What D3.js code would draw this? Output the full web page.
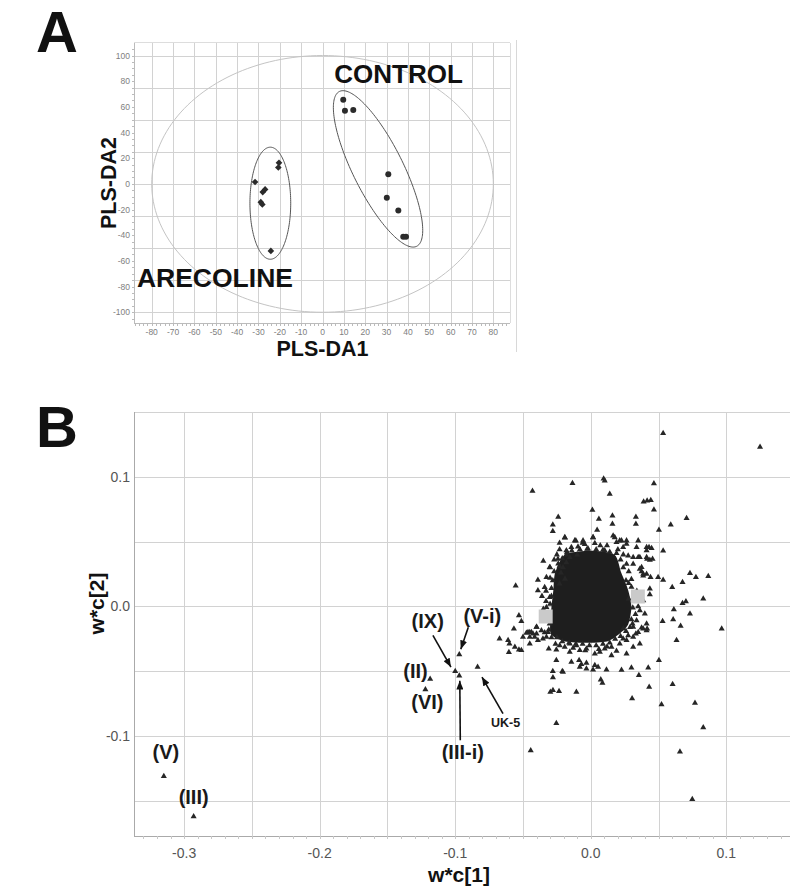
<!DOCTYPE html>
<html>
<head>
<meta charset="utf-8">
<script src="https://cdnjs.cloudflare.com/ajax/libs/d3/7.8.5/d3.min.js"></script>
<style>
  html, body { margin: 0; padding: 0; background: #fff; }
  svg { display: block; font-family: "Liberation Sans", Arial, sans-serif; }
  .grid line { stroke: #d2d2d2; stroke-width: 1; shape-rendering: crispEdges; }
  .frame line { shape-rendering: crispEdges; }
  .tick-a { font-size: 8.5px; fill: #808080; }
  .tick-b { font-family: "Liberation Sans Narrow", "Arial Narrow", "Liberation Sans", sans-serif; font-size: 14px; fill: #555; }
  .title { font-weight: bold; fill: #111; }
  .annot { font-weight: bold; fill: #1a1a1a; }
</style>
</head>
<body>
<svg id="chart" width="800" height="889"></svg>
<script>
// ---- panel A : PLS-DA scores ----
var controlScores = [[9.7,65.5],[10.5,57],[14.4,57.5],[30.8,7.5],[30.1,-10.7],[35.5,-20.8],[37.8,-41.2],[39.1,-41.2]];
var arecolineScores = [[-31.6,1.5],[-26.9,-4.3],[-28,-6.4],[-28.9,-14.2],[-28.2,-16],[-20.4,16.4],[-20.7,12.8],[-24.2,-52.2]];
// ellipses as [centre, end of first semi-axis, end of second semi-axis]
var hotellingEllipse = [[0,0],[0,100],[80,0]];
var controlEllipse = [[26,11.7],[44.1,-48.6],[15.5,3.0]];
var arecolineEllipse = [[-24.45,-15.05],[-24.45,28.6],[-14.9,-15.05]];
var scoreTicksX = [-80,-70,-60,-50,-40,-30,-20,-10,0,10,20,30,40,50,60,70,80];
var scoreTicksY = [100,80,60,40,20,0,-20,-40,-60,-80,-100];
var scoreGridY = [100,75,50,25,0,-25,-50,-75,-100];

// ---- panel B : loadings w*c ----
var namedLoadings = [
  ['(V)',-0.315,-0.131],['(III)',-0.293,-0.162],['(II)',-0.1185,-0.056],['(VI)',-0.122,-0.064],
  ['(IX)',-0.100,-0.050],['(III-i)',-0.097,-0.0535],['(V-i)',-0.097,-0.037],['UK-5',-0.0835,-0.0467]
];
var outerLoadings = [
  [0.1249,0.123],[0.0534,0.1336],[-0.0135,0.095],[0.0103,0.097],[0.0095,0.0985],[-0.043,0.089],[0.0466,0.0949],
  [0.014,0.0867],[0.039,0.0808],[0.0416,0.0815],[0.0443,0.082],[0.0466,0.0746],[0.0012,0.0744],[-0.024,0.069],
  [0.006,0.0675],[0.016,0.070],[0.016,0.0636],[0.0333,0.069],[0.0333,0.0636],[0.0707,0.068],[0.059,0.063],
  [-0.028,0.063],[-0.028,0.058],[0.0047,0.059],[0.0503,0.059],[0.0534,0.043],[-0.035,0.035],[0.0732,0.0256],
  [0.0776,0.0226],[0.0867,0.0233],[-0.0554,0.016],[-0.039,0.0205],[-0.030,0.022],[-0.039,0.0123],[0.0677,0.0187],
  [0.0601,0.0149],[0.0534,0.0205],[0.0497,0.0226],[0.0441,0.0226],[0.0436,0.0136],[0.0436,0.0092],[0.043,0.0456],
  [0.0449,0.045],[0.0416,0.0367],[0.0436,0.0359],[0.0456,0.0367],[0.0375,0.027],[0.0387,0.0238],[0.083,0.0059],
  [0.0702,0.0038],[0.0677,0.0025],[0.0613,-0.0023],[0.0732,-0.0056],[0.053,-0.0113],[0.0608,-0.010],[0.0663,-0.0151],
  [0.0966,-0.0172],[0.0416,-0.0172],[0.0633,-0.026],[0.0503,-0.0415],[0.0424,-0.0472],[0.0604,-0.060],[0.0431,-0.062],
  [0.0522,-0.0756],[0.0769,-0.0744],[0.083,-0.0933],[0.0658,-0.112],[0.0749,-0.1487],[0.0355,-0.053],[0.0305,-0.071],
  [0.030,-0.0472],[0.0227,-0.049],[0.0116,-0.0487],[0.0074,-0.0564],[0.0086,-0.059],[-0.0106,-0.066],[-0.0298,-0.066],
  [-0.0279,-0.0646],[-0.0234,-0.0654],[-0.028,-0.050],[-0.0279,-0.0548],[-0.021,-0.050],[-0.0254,-0.0415],
  [-0.0254,-0.090],[-0.0443,-0.111],[-0.053,-0.0069],[-0.0512,-0.0113],[-0.0567,-0.0172],[-0.0673,-0.0249],
  [-0.061,-0.026],[-0.060,-0.0287],[-0.0604,-0.0352],[-0.056,-0.0313],[-0.053,-0.0333],[-0.0512,-0.0338],
  [-0.045,-0.0287],[-0.0475,-0.0205],[-0.0438,-0.0198],[-0.040,-0.021],[-0.031,-0.0325],[-0.0254,-0.0333],
  [-0.0081,-0.0467],[-0.0032,-0.048],[0.0017,-0.0487],[-0.0205,-0.0505]
];
var fringeLoadings = [
  [-0.019,0.053],[-0.023,0.049],[-0.023,0.044],[-0.0175,0.0418],[-0.0143,0.0456],[-0.011,0.0508],[-0.0094,0.046],
  [-0.0044,0.048],[-0.0027,0.0444],[0.0017,0.0533],[0.003,0.0487],[0.0103,0.0431],[0.0177,0.0533],[0.019,0.0495],
  [0.0214,0.0508],[0.0264,0.0482],[0.035,0.0508],[0.0412,0.0456],[0.0276,0.0392],[0.0313,0.0379],[0.035,0.0379],
  [0.0264,0.0328],[0.0362,0.029],[0.0387,0.0251],[0.0412,0.0379],[-0.023,0.031],[-0.022,0.026],[-0.0155,0.038],
  [-0.018,0.034],[-0.0205,0.030],[-0.019,0.0213],[-0.023,0.0175],
  [-0.0463,-0.0198],[-0.0426,-0.021],[-0.045,-0.0236],[-0.0414,-0.0236],[-0.039,-0.026],[-0.0353,-0.0249],
  [-0.0327,-0.0236],[-0.0316,-0.0198],[-0.0364,-0.0185],[-0.040,-0.0159],[-0.0303,-0.0133],[-0.0327,-0.0108],
  [-0.0229,-0.030],[-0.0192,-0.0313],[-0.0155,-0.0287],[-0.0106,-0.030],[-0.0081,-0.0338],[-0.0032,-0.0325],
  [0.003,-0.0364],[0.0067,-0.0351],[0.0103,-0.0325],[0.0153,-0.0313],[0.0214,-0.0287],[0.0264,-0.026],
  [0.0313,-0.0236],[0.035,-0.0198],[0.0387,-0.0172],[0.0412,-0.0133],
  [-0.0155,-0.0351],[-0.0143,-0.0428],[-0.0086,-0.0415],[-0.0069,-0.0446],[-0.0032,-0.0436],[0.003,-0.0454],
  [0.0054,-0.0467],[0.0153,-0.0377],[0.019,-0.0344],[0.0264,-0.0364],[0.0313,-0.0313],[0.0362,-0.0287],
  [0.0308,-0.0133],[0.0375,-0.0164],[0.0412,-0.0185],[0.0333,-0.021],[0.0276,-0.0223],[0.0239,-0.0249],
  [0.0362,0.0072],[0.0387,0.0046],[0.0362,-0.0031],[0.0399,-0.0056],[0.0338,-0.0108],[0.0313,-0.0159],
  [0.0412,0.0251],[0.0375,0.0302],[0.0313,0.0328],[0.0362,0.0379],[0.0412,0.0431],[0.0338,0.0456],[0.0264,0.0508],
  [-0.0192,0.0533],[-0.0118,0.0508],[-0.0057,0.0508],[0.0017,0.0533],[0.0165,0.0546],[0.0227,0.0508],[0.0239,0.0456],
  [-0.018,0.0431],[-0.0242,0.0367],[-0.0303,0.0302],[-0.0327,0.0226],[-0.034,0.0149],
  [-0.0303,0.0072],[-0.0327,-0.0005],[-0.0353,-0.0082],[-0.040,-0.0159],[-0.045,-0.0198],[-0.050,-0.0236]
];
// triangles packed against the edge of the solid core
var edgeLoadings = [
  [-0.014,0.043],[-0.008,0.044],[-0.002,0.0445],[0.004,0.044],[0.009,0.0435],[0.014,0.042],[-0.010,0.040],
  [0.007,0.047],[-0.006,0.049],[0.012,0.047],[0.019,0.041],[0.022,0.036],[0.024,0.030],[0.028,0.027],
  [0.030,0.021],[0.026,0.020],[0.020,0.044],[0.024,0.040],[0.030,0.015],[0.032,0.010],[0.033,0.004],
  [0.031,-0.001],[0.033,-0.006],[0.030,-0.010],[0.028,0.006],[0.035,0.0],[0.034,0.012],[0.028,0.018],
  [0.029,-0.016],[0.026,-0.019],[0.022,-0.023],[0.018,-0.025],[0.014,-0.028],[0.024,-0.017],
  [0.009,-0.029],[0.004,-0.030],[-0.001,-0.030],[-0.006,-0.029],[-0.011,-0.029],[-0.016,-0.028],
  [0.006,-0.033],[-0.004,-0.034],[-0.013,-0.032],[0.012,-0.031],
  [-0.021,-0.027],[-0.025,-0.024],[-0.029,-0.024],[-0.031,-0.018],[-0.026,-0.029],[-0.034,-0.020],
  [-0.031,-0.010],[-0.031,-0.005],[-0.030,0.002],[-0.029,0.008],[-0.029,0.014],[-0.028,0.020],
  [-0.033,0.004],[-0.035,-0.002],[-0.036,0.008],[-0.033,0.012],
  [-0.027,0.027],[-0.024,0.033],[-0.021,0.037],[-0.018,0.040],[-0.027,0.036],[-0.025,0.040],[-0.030,0.030]
];
// the solid, fully overplotted core of the loadings cloud
var coreOutline = [
  [-0.019,0.040],[0.0,0.043],[0.0175,0.040],[0.0225,0.026],[0.0275,0.013],[0.030,-0.0005],[0.0275,-0.014],
  [0.020,-0.022],[0.012,-0.027],[-0.003,-0.028],[-0.019,-0.027],[-0.029,-0.022],[-0.030,-0.0135],
  [-0.029,-0.0005],[-0.0276,0.0125],[-0.0263,0.026]
];
var greyBins = [[-0.0384,-0.0023,-0.0281,-0.0131],[0.0296,0.0131,0.0399,0.0023]];
var loadTicksX = [-0.3,-0.2,-0.1,0.0,0.1];
var loadTicksY = [0.1,0.0,-0.1];
var loadGridX = [-0.3,-0.25,-0.2,-0.15,-0.1,-0.05,0,0.05,0.1];
var loadGridY = [-0.15,-0.1,-0.05,0,0.05,0.1,0.15];

// label placement (px from the marked point): [label dx, label dy, arrow from dx, dy, arrow to dx, dy]
var annotLayout = {
  '(V)': [2,-17], '(III)': [0,-12.7], '(II)': [-14.7,-1.5], '(VI)': [2,19.7],
  '(IX)': [-27.5,-43.5,-22.3,-36,-4.3,-4.3],
  '(V-i)': [23,-31.8,9,-27.3,1.5,-5.3],
  '(III-i)': [3.5,83.3,1,64.3,0.5,4.8],
  'UK-5': [28,59.8,25.4,46.6,4.4,10]
};

var svg = d3.select('#chart');
var fmtB = d3.formatLocale({decimal: '.', thousands: ',', grouping: [3], currency: ['', ''], minus: '-'}).format('.1f');

svg.append('defs').append('marker')
  .attr('id', 'arrow').attr('viewBox', '0 -4 10 8').attr('refX', 10).attr('refY', 0)
  .attr('markerWidth', 9).attr('markerHeight', 7).attr('markerUnits', 'userSpaceOnUse').attr('orient', 'auto')
  .append('path').attr('d', 'M0,-4L10,0L0,4Z').attr('fill', '#111');

var ellipsePath = function(e, sx, sy) {
  var pts = d3.range(0, 2 * Math.PI + 0.01, Math.PI / 90).map(function(t) {
    var x = e[0][0] + (e[1][0] - e[0][0]) * Math.cos(t) + (e[2][0] - e[0][0]) * Math.sin(t),
        y = e[0][1] + (e[1][1] - e[0][1]) * Math.cos(t) + (e[2][1] - e[0][1]) * Math.sin(t);
    return [sx(x), sy(y)];
  });
  return d3.line()(pts) + 'Z';
};

// ================= panel A =================
(function() {
  var xA = d3.scaleLinear().domain([-88.3, 87.8]).range([134, 510]),
      yA = d3.scaleLinear().domain([-108.6, 110]).range([323.3, 42.7]);
  var g = svg.append('g');

  var grid = g.append('g').attr('class', 'grid');
  grid.selectAll('.gx').data(scoreTicksX).enter().append('line')
    .attr('x1', function(d) { return Math.round(xA(d)) + 0.5; }).attr('x2', function(d) { return Math.round(xA(d)) + 0.5; })
    .attr('y1', yA.range()[1]).attr('y2', yA.range()[0]);
  grid.selectAll('.gy').data(scoreGridY).enter().append('line')
    .attr('y1', function(d) { return Math.round(yA(d)) + 0.5; }).attr('y2', function(d) { return Math.round(yA(d)) + 0.5; })
    .attr('x1', xA.range()[0]).attr('x2', xA.range()[1]);

  var frame = g.append('g').attr('class', 'frame');
  frame.append('line').attr('x1', 134.5).attr('x2', 134.5).attr('y1', 42.7).attr('y2', 323.3).attr('stroke', '#bbb');
  frame.append('line').attr('x1', 134).attr('x2', 510).attr('y1', 323.5).attr('y2', 323.5).attr('stroke', '#bbb');
  frame.append('line').attr('x1', 134).attr('x2', 510).attr('y1', 42.5).attr('y2', 42.5).attr('stroke', '#ddd');
  frame.append('line').attr('x1', 510.5).attr('x2', 510.5).attr('y1', 42.7).attr('y2', 323.3).attr('stroke', '#ddd');
  frame.append('line').attr('x1', 516.5).attr('x2', 516.5).attr('y1', 40).attr('y2', 352).attr('stroke', '#d8d8d8');

  // minor ticks
  frame.selectAll('.mx').data(d3.range(-88, 88, 2)).enter().append('line')
    .attr('x1', function(d) { return Math.round(xA(d)) + 0.5; }).attr('x2', function(d) { return Math.round(xA(d)) + 0.5; })
    .attr('y1', 323).attr('y2', 326).attr('stroke', '#bbb');
  frame.selectAll('.my').data(d3.range(-105, 110, 5)).enter().append('line')
    .attr('y1', function(d) { return Math.round(yA(d)) + 0.5; }).attr('y2', function(d) { return Math.round(yA(d)) + 0.5; })
    .attr('x1', 132).attr('x2', 135).attr('stroke', '#bbb');

  g.selectAll('.tx').data(scoreTicksX).enter().append('text').attr('class', 'tick-a')
    .attr('x', function(d) { return xA(d); }).attr('y', 335).attr('text-anchor', 'middle').text(function(d) { return d; });
  g.selectAll('.ty').data(scoreTicksY).enter().append('text').attr('class', 'tick-a')
    .attr('x', 130).attr('y', function(d) { return yA(d) + 3; }).attr('text-anchor', 'end').text(function(d) { return d; });

  g.append('path').attr('d', ellipsePath(hotellingEllipse, xA, yA)).attr('fill', 'none').attr('stroke', '#c4c4c4').attr('stroke-width', 1);
  g.append('path').attr('d', ellipsePath(controlEllipse, xA, yA)).attr('fill', 'none').attr('stroke', '#555').attr('stroke-width', 1);
  g.append('path').attr('d', ellipsePath(arecolineEllipse, xA, yA)).attr('fill', 'none').attr('stroke', '#555').attr('stroke-width', 1);

  g.selectAll('.ctl').data(controlScores).enter().append('circle')
    .attr('cx', function(d) { return xA(d[0]); }).attr('cy', function(d) { return yA(d[1]); })
    .attr('r', 3).attr('fill', '#2b2b2b');
  g.selectAll('.are').data(arecolineScores).enter().append('path')
    .attr('d', d3.symbol().type(d3.symbolSquare).size(22))
    .attr('transform', function(d) { return 'translate(' + xA(d[0]) + ',' + yA(d[1]) + ') rotate(45)'; })
    .attr('fill', '#2b2b2b');

  g.append('text').attr('class', 'title').attr('x', xA(35.6)).attr('y', yA(78.5)).attr('text-anchor', 'middle')
    .style('font-size', '26px').text('CONTROL');
  g.append('text').attr('class', 'title').attr('x', xA(-50.4)).attr('y', yA(-80)).attr('text-anchor', 'middle')
    .style('font-size', '26.5px').text('ARECOLINE');

  g.append('text').attr('class', 'title').attr('transform', 'translate(115.5,' + ((42.7 + 323.3) / 2) + ') rotate(-90)')
    .attr('text-anchor', 'middle').style('font-size', '21.5px').text('PLS-DA2');
  g.append('text').attr('class', 'title').attr('x', xA(0)).attr('y', 355.5).attr('text-anchor', 'middle')
    .style('font-size', '21.5px').text('PLS-DA1');

  g.append('text').attr('class', 'title').attr('x', 36).attr('y', 52).style('font-size', '58px').text('A');
})();

// ================= panel B =================
(function() {
  var xB = d3.scaleLinear().domain([-0.337, 0.147]).range([134, 790]),
      yB = d3.scaleLinear().domain([-0.177, 0.15]).range([836, 412]);
  var g = svg.append('g');

  var grid = g.append('g').attr('class', 'grid');
  grid.selectAll('.gx').data(loadGridX).enter().append('line')
    .attr('x1', function(d) { return Math.round(xB(d)) + 0.5; }).attr('x2', function(d) { return Math.round(xB(d)) + 0.5; })
    .attr('y1', 412).attr('y2', 836);
  grid.selectAll('.gy').data(loadGridY).enter().append('line')
    .attr('y1', function(d) { return Math.round(yB(d)) + 0.5; }).attr('y2', function(d) { return Math.round(yB(d)) + 0.5; })
    .attr('x1', 134).attr('x2', 790);

  var frame = g.append('g').attr('class', 'frame');
  frame.append('line').attr('x1', 134.5).attr('x2', 134.5).attr('y1', 412).attr('y2', 836).attr('stroke', '#aaa');
  frame.append('line').attr('x1', 134).attr('x2', 790).attr('y1', 836.5).attr('y2', 836.5).attr('stroke', '#aaa');
  frame.selectAll('.mx').data(d3.range(-0.33, 0.15, 0.01)).enter().append('line')
    .attr('x1', function(d) { return Math.round(xB(d)) + 0.5; }).attr('x2', function(d) { return Math.round(xB(d)) + 0.5; })
    .attr('y1', 836).attr('y2', 839).attr('stroke', '#c8c8c8');

  g.selectAll('.tx').data(loadTicksX).enter().append('text').attr('class', 'tick-b')
    .attr('x', function(d) { return xB(d); }).attr('y', 858).attr('text-anchor', 'middle').text(fmtB);
  g.selectAll('.ty').data(loadTicksY).enter().append('text').attr('class', 'tick-b')
    .attr('x', 130).attr('y', function(d) { return yB(d) + 5; }).attr('text-anchor', 'end').text(fmtB);

  // dense core
  g.append('path')
    .attr('d', d3.line().curve(d3.curveCardinalClosed.tension(0.3))(coreOutline.map(function(d) { return [xB(d[0]), yB(d[1])]; })))
    .attr('fill', '#1e1e1e');

  var tri = d3.symbol().type(d3.symbolTriangle).size(16);
  var allPts = edgeLoadings.concat(fringeLoadings).concat(outerLoadings)
    .concat(namedLoadings.map(function(d) { return [d[1], d[2]]; }));
  g.selectAll('.pt').data(allPts).enter().append('path')
    .attr('d', tri).attr('fill', '#262626')
    .attr('transform', function(d) { return 'translate(' + xB(d[0]) + ',' + yB(d[1]) + ')'; });

  g.selectAll('.bin').data(greyBins).enter().append('rect')
    .attr('x', function(d) { return xB(d[0]); }).attr('y', function(d) { return yB(d[1]); })
    .attr('width', function(d) { return xB(d[2]) - xB(d[0]); }).attr('height', function(d) { return yB(d[3]) - yB(d[1]); })
    .attr('fill', '#cacaca');

  // annotations
  namedLoadings.forEach(function(d) {
    var lay = annotLayout[d[0]], px = xB(d[1]), py = yB(d[2]);
    g.append('text').attr('class', 'annot').attr('x', px + lay[0]).attr('y', py + lay[1]).attr('text-anchor', 'middle')
      .style('font-size', d[0] === 'UK-5' ? '12.5px' : '20px').text(d[0]);
    if (lay.length > 2) {
      g.append('line').attr('x1', px + lay[2]).attr('y1', py + lay[3]).attr('x2', px + lay[4]).attr('y2', py + lay[5])
        .attr('stroke', '#111').attr('stroke-width', 1.6).attr('marker-end', 'url(#arrow)');
    }
  });

  g.append('text').attr('class', 'title').attr('transform', 'translate(104,603.5) rotate(-90)')
    .attr('text-anchor', 'middle').style('font-size', '21px').text('w*c[2]');
  g.append('text').attr('class', 'title').attr('x', 459).attr('y', 882).attr('text-anchor', 'middle')
    .style('font-size', '21px').text('w*c[1]');

  g.append('text').attr('class', 'title').attr('x', 36).attr('y', 447).style('font-size', '58px').text('B');
})();
</script>
</body>
</html>
